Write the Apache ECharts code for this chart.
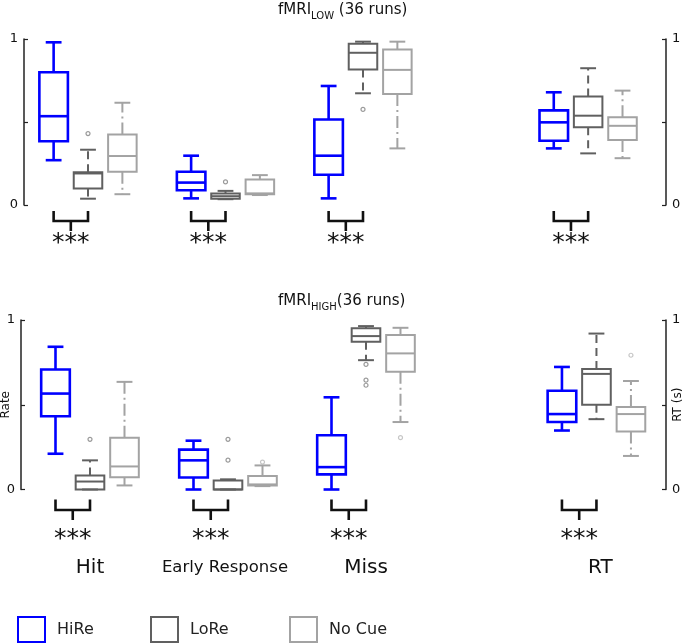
<!DOCTYPE html>
<html>
<head>
<meta charset="utf-8">
<script src="https://cdn.jsdelivr.net/npm/echarts@6/dist/echarts.min.js"></script>
<style>html,body{margin:0;padding:0;background:#fff;}#c{width:685px;height:643px;}</style>
</head>
<body>
<div id="c"></div>
<script>
// ---------------- data ----------------
const categories = ['Hit', 'Early Response', 'Miss', 'RT'];
const conditions = ['HiRe', 'LoRe', 'No Cue'];
const yTickValues = [0, 0.5, 1];
const yTickLabels = ['0', '', '1'];
const significance = ['***', '***', '***', '***'];

// each row: [lower whisker, q1, median, q3, upper whisker]
const lowHiRe  = [[0.27, 0.384, 0.535, 0.80, 0.98], [0.04, 0.089, 0.135, 0.20, 0.297], [0.04, 0.182, 0.297, 0.515, 0.717], [0.341, 0.387, 0.498, 0.57, 0.679]];
const lowLoRe  = [[0.038, 0.099, 0.19, 0.198, 0.333], [0.035, 0.038, 0.053, 0.069, 0.085], [0.673, 0.816, 0.917, 0.972, 0.984], [0.311, 0.469, 0.538, 0.653, 0.824]];
const lowNoCue = [[0.065, 0.20, 0.295, 0.424, 0.616], [0.06, 0.065, 0.07, 0.153, 0.18], [0.341, 0.669, 0.814, 0.937, 0.984], [0.282, 0.391, 0.477, 0.528, 0.689]];
const lowOutLoRe  = [[0, 0.43], [1, 0.139], [2, 0.576]];
const lowOutNoCue = [];

const highHiRe  = [[0.211, 0.432, 0.566, 0.708, 0.842], [0, 0.071, 0.172, 0.235, 0.288], [0, 0.089, 0.132, 0.32, 0.544], [0.348, 0.398, 0.445, 0.583, 0.723]];
const highLoRe  = [[0, 0, 0.047, 0.083, 0.172], [0, 0, 0, 0.053, 0.06], [0.763, 0.872, 0.905, 0.951, 0.964], [0.415, 0.50, 0.682, 0.711, 0.92]];
const highNoCue = [[0.024, 0.073, 0.136, 0.306, 0.635], [0.02, 0.024, 0.03, 0.079, 0.142], [0.398, 0.694, 0.803, 0.911, 0.954], [0.198, 0.342, 0.445, 0.486, 0.64]];
const highOutLoRe  = [[0, 0.296], [1, 0.296], [1, 0.173], [2, 0.738], [2, 0.645], [2, 0.615]];
const highOutNoCue = [[1, 0.162], [2, 0.306], [3, 0.792]];

// ---------------- layout & style ----------------
const FONT = '"DejaVu Sans", "Noto Sans", sans-serif';
const BOX_W = 0.83, CAP_W = 0.46;
const condStyles = [
  { color: '#0000ff', width: 2.6, wWidth: 2.6, dash: null, out: '#0000ff' },
  { color: '#606060', width: 2, wWidth: 2, dash: [8, 5], out: '#808080' },
  { color: '#a3a3a3', width: 2, wWidth: 2, dash: [12, 4, 2, 4], out: '#b8b8b8' }
];
const panels = [
  { grid: { left: 24, top: 39, width: 642, height: 166 }, xMin: 0.138, xMax: 18.815,
    slots: [2, 6, 10, 16.55], bracket: [6, 16, 26], starY: 38,
    boxes: [lowHiRe, lowLoRe, lowNoCue], outs: [null, lowOutLoRe, lowOutNoCue],
    leftName: '', rightName: '' },
  { grid: { left: 21, top: 320, width: 645, height: 169.5 }, xMin: 0, xMax: 18.696,
    slots: [2, 6, 10, 16.68], bracket: [10, 20.5, 30.5], starY: 50,
    boxes: [highHiRe, highLoRe, highNoCue], outs: [null, highOutLoRe, highOutNoCue],
    leftName: 'Rate', rightName: 'RT (s)' }
];
const labelFont = [20, 16.5, 20, 20];
const labelDx = [0, -3, 0, 4];
const labelDy = 78;

function boxRenderer(st) {
  return function (params, api) {
    const x = api.value(0);
    const c = k => api.coord([x, api.value(k)]);
    const lo = c(1), q1 = c(2), md = c(3), q3 = c(4), hi = c(5);
    const cx = lo[0];
    const bw = api.size([BOX_W, 0])[0], cw = api.size([CAP_W, 0])[0];
    const solid = { stroke: st.color, lineWidth: st.width, fill: null };
    const wh = { stroke: st.color, lineWidth: st.wWidth, fill: null };
    if (st.dash) wh.lineDash = st.dash;
    return { type: 'group', children: [
      { type: 'line', shape: { x1: cx, y1: q3[1], x2: cx, y2: hi[1] }, style: wh },
      { type: 'line', shape: { x1: cx, y1: q1[1], x2: cx, y2: lo[1] }, style: wh },
      { type: 'line', shape: { x1: cx - cw / 2, y1: hi[1], x2: cx + cw / 2, y2: hi[1] }, style: solid },
      { type: 'line', shape: { x1: cx - cw / 2, y1: lo[1], x2: cx + cw / 2, y2: lo[1] }, style: solid },
      { type: 'rect', shape: { x: cx - bw / 2, y: q3[1], width: bw, height: q1[1] - q3[1] }, style: { stroke: st.color, lineWidth: st.width, fill: 'none' } },
      { type: 'line', shape: { x1: cx - bw / 2, y1: md[1], x2: cx + bw / 2, y2: md[1] }, style: solid }
    ] };
  };
}

function bracketRenderer(pl) {
  return function (params, api) {
    const s = api.value(0);
    const a = api.coord([s - 1, 0]), b = api.coord([s, 0]);
    const y0 = a[1], x1 = a[0], x2 = b[0], xm = (x1 + x2) / 2;
    const [o1, o2, o3] = pl.bracket;
    const ls = { stroke: '#111', lineWidth: 2.6, fill: null };
    return { type: 'group', children: [
      { type: 'polyline', shape: { points: [[x1, y0 + o1], [x1, y0 + o2], [x2, y0 + o2], [x2, y0 + o1]] }, style: ls },
      { type: 'line', shape: { x1: xm, y1: y0 + o2, x2: xm, y2: y0 + o3 }, style: ls },
      { type: 'text', style: { text: significance[params.dataIndex], x: xm, y: y0 + pl.starY, align: 'center', verticalAlign: 'middle', font: '25px ' + FONT, fill: '#111' } }
    ] };
  };
}

function labelRenderer(params, api) {
  const i = params.dataIndex;
  const p = api.coord([api.value(0), 0]);
  return { type: 'text', style: { text: categories[i], x: p[0] + labelDx[i], y: p[1] + labelDy, align: 'center', verticalAlign: 'middle', font: labelFont[i] + 'px ' + FONT, fill: '#111' } };
}

const grids = [], xAxes = [], yAxes = [], series = [];
panels.forEach((pl, p) => {
  grids.push(Object.assign({ outerBoundsMode: 'none', containLabel: false }, pl.grid));
  xAxes.push({ type: 'value', gridIndex: p, min: pl.xMin, max: pl.xMax, show: false });
  ['left', 'right'].forEach(pos => {
    yAxes.push({
      type: 'value', gridIndex: p, position: pos, min: 0, max: 1, interval: 0.5,
      name: pos === 'left' ? pl.leftName : pl.rightName, nameLocation: 'middle', nameRotate: 90,
      nameMoveOverlap: false,
      nameGap: pos === 'left' ? 9 : 6, nameTextStyle: { fontSize: 12, fontFamily: FONT, color: '#111' },
      axisLine: { show: true, lineStyle: { color: '#222', width: 1.5 } },
      axisTick: { show: true, inside: true, length: 4, lineStyle: { color: '#222', width: 1.2 } },
      axisLabel: { margin: 6, fontSize: 13, fontFamily: FONT, color: '#111',
        formatter: v => yTickLabels[yTickValues.indexOf(v)] },
      splitLine: { show: false }
    });
  });
  const yIdx = p * 2;
  conditions.forEach((cond, c) => {
    series.push({
      type: 'custom', name: cond, xAxisIndex: p, yAxisIndex: yIdx,
      itemStyle: { color: condStyles[c].color },
      renderItem: boxRenderer(condStyles[c]),
      encode: { x: 0, y: [1, 2, 3, 4, 5] },
      data: pl.boxes[c].map((v, i) => [pl.slots[i] + (c - 1)].concat(v)),
      z: 3 + c
    });
    if (pl.outs[c] && pl.outs[c].length) {
      series.push({
        type: 'scatter', name: cond + ' outliers', xAxisIndex: p, yAxisIndex: yIdx,
        symbol: 'circle', symbolSize: 4,
        itemStyle: { color: '#fff', borderColor: condStyles[c].out, borderWidth: 1.2 },
        data: pl.outs[c].map(o => [pl.slots[o[0]] + (c - 1), o[1]]), z: 6
      });
    }
  });
  series.push({
    type: 'custom', name: 'sig' + p, xAxisIndex: p, yAxisIndex: yIdx,
    renderItem: bracketRenderer(pl), encode: { x: 0 },
    data: significance.map((s, i) => [pl.slots[i]]), z: 7
  });
});
series.push({
  type: 'custom', name: 'cats', xAxisIndex: 1, yAxisIndex: 2,
  renderItem: labelRenderer, encode: { x: 0 },
  data: categories.map((c, i) => [panels[1].slots[i]]), z: 7
});

const legendColors = condStyles.map(s => s.color);
const legendLefts = [17, 150, 289];
const legends = conditions.map((cond, c) => ({
  left: legendLefts[c], top: 616, padding: 0, itemWidth: 27, itemHeight: 25, selectedMode: false,
  textStyle: { fontSize: 16, fontFamily: FONT, color: '#222', padding: [0, 0, 0, 7] },
  data: [{ name: cond, icon: 'rect', itemStyle: { color: '#fff', borderColor: legendColors[c], borderWidth: 2 } }]
}));

const titleStyle = {
  fontSize: 15, fontFamily: FONT, fontWeight: 'normal', color: '#111',
  rich: {
    a: { fontSize: 15, fontFamily: FONT, color: '#111', verticalAlign: 'bottom', padding: [0, 0, 3, 0] },
    s: { fontSize: 10, fontFamily: FONT, color: '#111', verticalAlign: 'bottom', padding: [0, 0, 0, 0] }
  }
};
const titles = [
  { text: '{a|fMRI}{s|LOW}{a| (36 runs)}', left: 278, top: 3, padding: 0, textStyle: titleStyle },
  { text: '{a|fMRI}{s|HIGH}{a|(36 runs)}', left: 278, top: 294, padding: 0, textStyle: titleStyle }
];

const chart = echarts.init(document.getElementById('c'), null, { renderer: 'canvas' });
chart.setOption({
  animation: false,
  backgroundColor: '#fff',
  title: titles,
  legend: legends,
  grid: grids,
  xAxis: xAxes,
  yAxis: yAxes,
  series: series
});
</script>
</body>
</html>
